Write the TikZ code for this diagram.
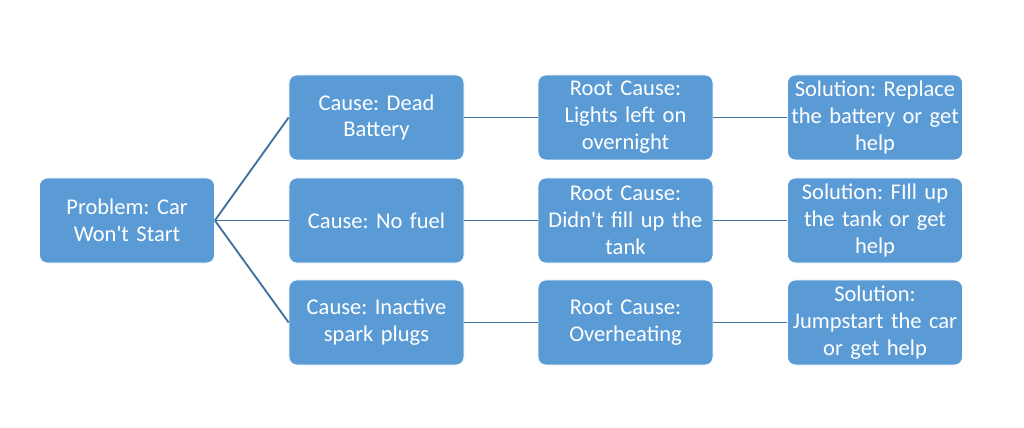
\documentclass[tikz,border=0pt]{standalone}
\usepackage{fontspec}
\setmainfont{Carlito}
\definecolor{boxblue}{HTML}{5B9BD5}
\definecolor{lineblue}{HTML}{41719C}
\frenchspacing
\tikzset{
  box/.style={draw=white, line width=0.6pt, fill=boxblue, rounded corners=0.24cm,
    minimum width=5.25cm, minimum height=2.55cm, inner xsep=0pt, text width=5.2cm,
    align=center, text=white, font=\fontsize{19.2}{23}\selectfont},
  link/.style={draw=lineblue, line width=1.6pt}
}
\begin{document}
\begin{tikzpicture}[x=0.03cm, y=-0.03cm, line join=round]
\def\ca{376.5} \def\cb{625.5} \def\cc{875}
\def\ra{117.5} \def\rb{220.5} \def\rc{322.5}
\useasboundingbox (0,0) rectangle (1024,428);
% problem
\node[box] (prob) at (127,\rb) {Problem: Car\\Won\textquotesingle t Start};
% causes
\node[box] (cause1) at (\ca,\ra) {Cause: Dead\\Battery};
\node[box] (cause2) at (\ca,\rb) {Cause: No fuel};
\node[box] (cause3) at (\ca,\rc) {Cause: Inactive\\spark plugs};
% root causes
\node[box] (root1) at (\cb,\ra) {Root Cause:\\Lights left on\\overnight};
\node[box] (root2) at (\cb,\rb) {Root Cause:\\Didn\textquotesingle t fill up the\\tank};
\node[box] (root3) at (\cb,\rc) {Root Cause:\\Overheating};
% solutions
\node[box] (sol1) at (\cc,\ra) {Solution: Replace\\the battery or get\\help};
\node[box] (sol2) at (\cc,\rb) {Solution: FIll up\\the tank or get\\help};
\node[box] (sol3) at (\cc,\rc) {Solution:\\Jumpstart the car\\or get help};
% links
\foreach \i in {1,2,3}{
  \draw[link] (prob.east) -- (cause\i.west);
  \draw[link] (cause\i.east) -- (root\i.west);
  \draw[link] (root\i.east) -- (sol\i.west);
}
\end{tikzpicture}
\end{document}
